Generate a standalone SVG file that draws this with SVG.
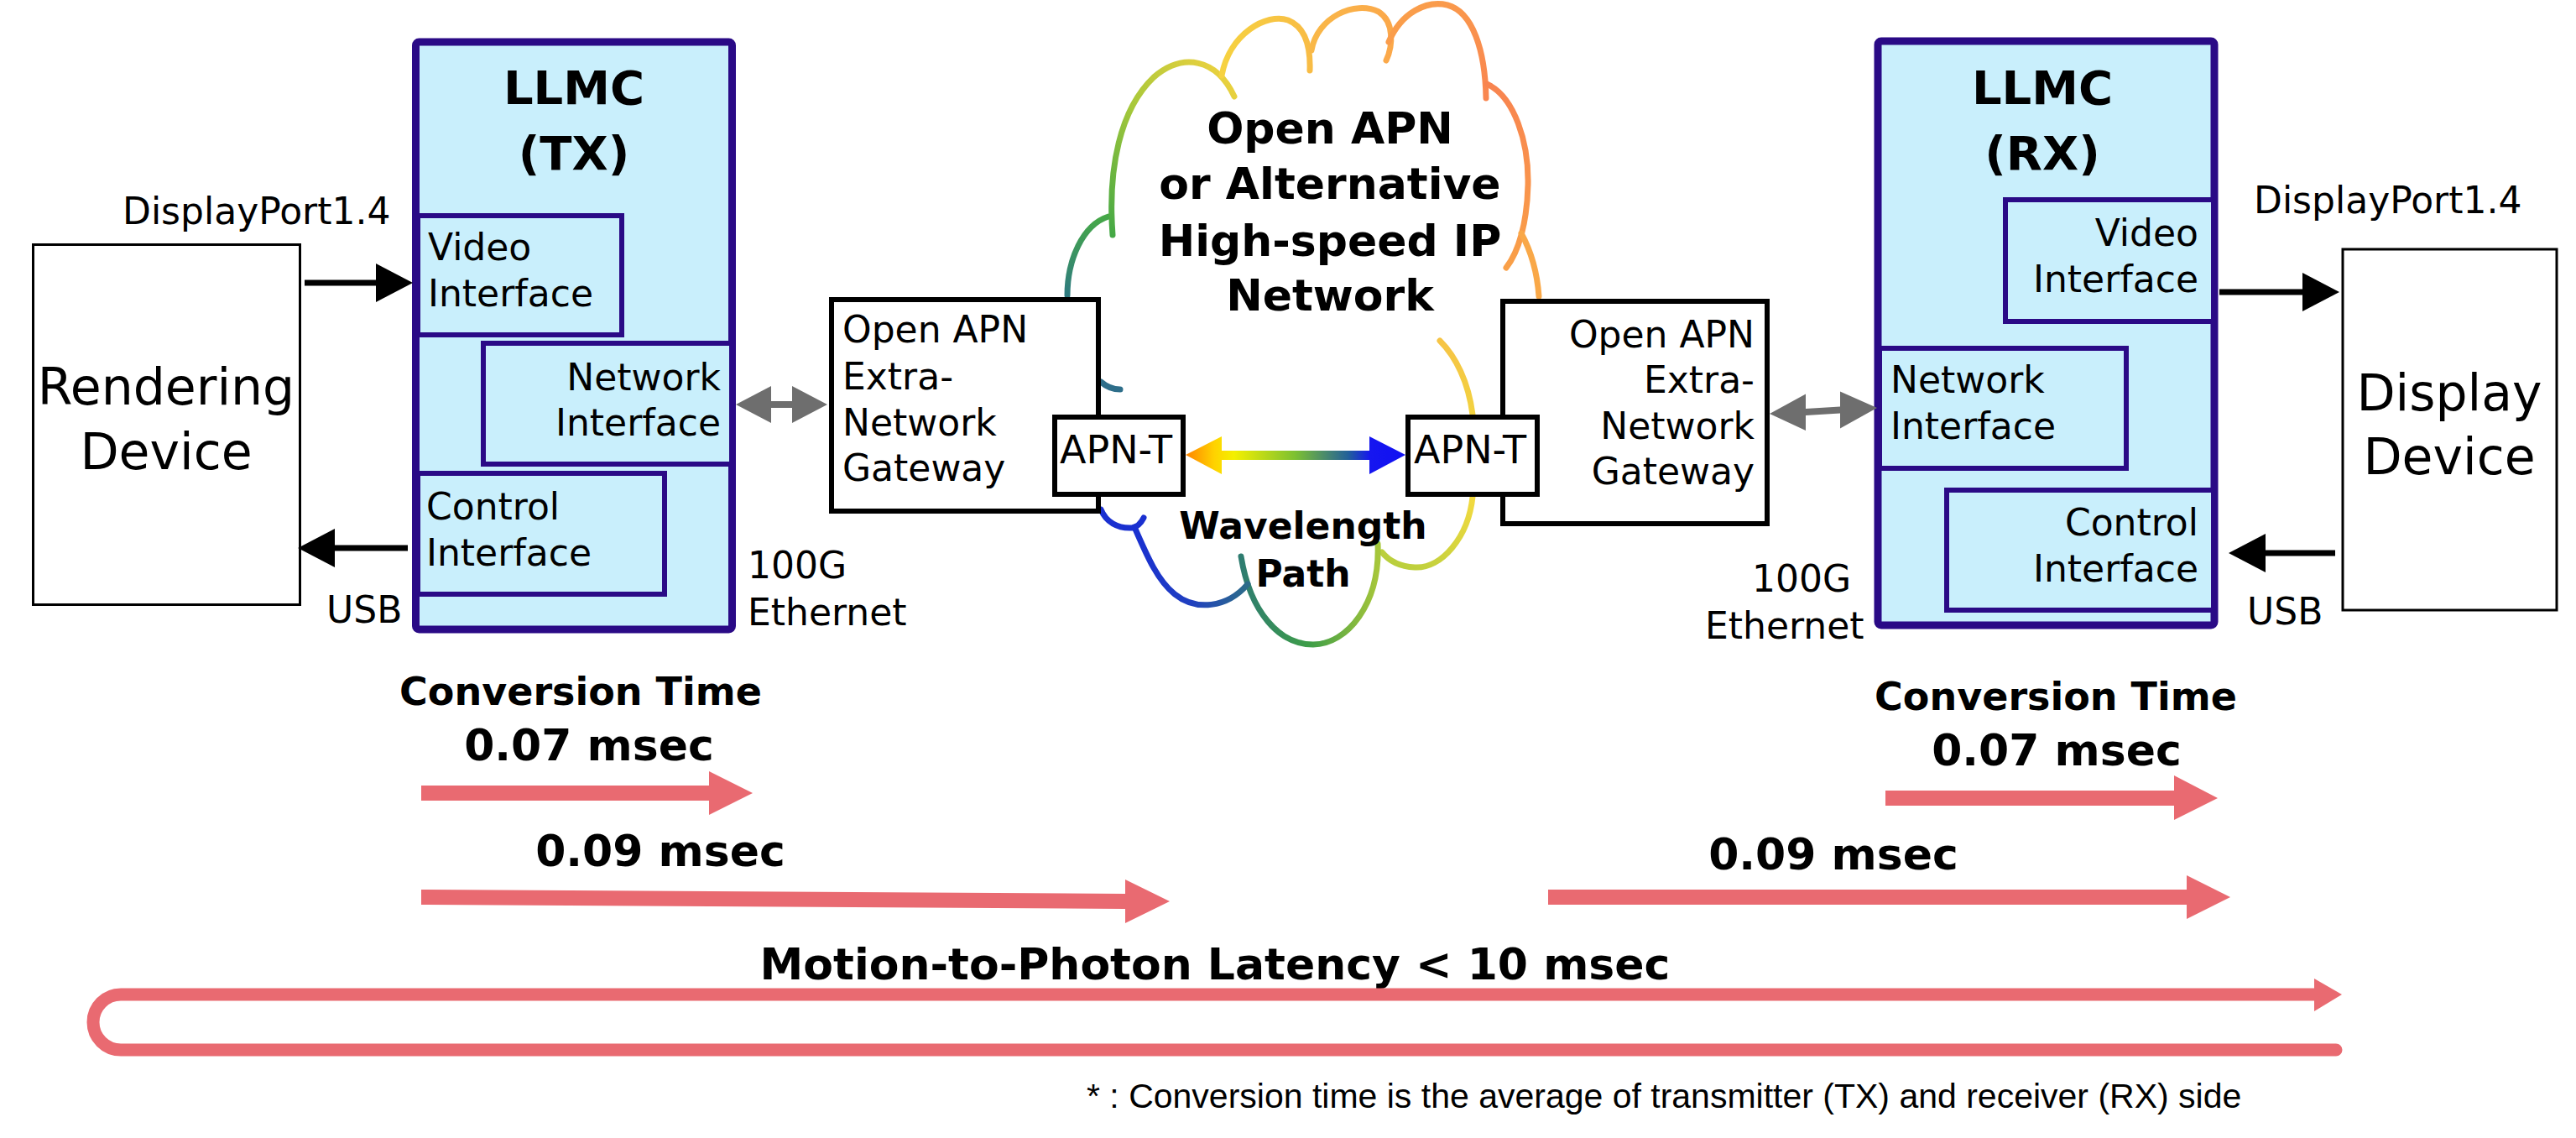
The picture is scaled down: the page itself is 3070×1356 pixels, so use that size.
<svg xmlns="http://www.w3.org/2000/svg" width="3070" height="1356" viewBox="0 0 3070 1356">
<style>
.t{font-family:"DejaVu Sans",Verdana,sans-serif;font-size:44px;fill:#000}
.b{font-weight:bold}
.mid{text-anchor:middle}
.end{text-anchor:end}
.s60{font-size:60px}
.s56{font-size:56px}
.s52{font-size:52px}
.s46{font-size:46px}
.ft{font-family:"Liberation Sans",Arial,sans-serif;font-size:41px;fill:#000}
.llmc{fill:#C9EFFC;stroke:#2A0A86;stroke-width:9}
.ifbox{fill:#C9EFFC;stroke:#2A0A86;stroke-width:6}
.dev{fill:#fff;stroke:#000;stroke-width:3}
.gw{fill:#fff;stroke:#000;stroke-width:6}
.cl{fill:none;stroke-width:7;stroke-linecap:round}
.blk{stroke:#000;stroke-width:7;fill:none}
.gray{fill:#6E6E6E}
.red{fill:#E96A71}
</style>
<defs>
<marker id="bh" markerUnits="userSpaceOnUse" markerWidth="44" markerHeight="46" viewBox="0 0 44 46" refX="1" refY="23" orient="auto">
<path d="M0,0 L44,23 L0,46 Z" fill="#000"/>
</marker>
<linearGradient id="gWave" gradientUnits="userSpaceOnUse" x1="1413" y1="0" x2="1675" y2="0">
<stop offset="0" stop-color="#FF8400"/><stop offset="0.13" stop-color="#FFD200"/><stop offset="0.22" stop-color="#F4F000"/><stop offset="0.5" stop-color="#7CC032"/><stop offset="0.74" stop-color="#22609A"/><stop offset="0.84" stop-color="#1616F0"/><stop offset="1" stop-color="#1010F2"/>
</linearGradient>
<linearGradient id="gA" x1="0" y1="1" x2="0" y2="0"><stop offset="0" stop-color="#2E7A80"/><stop offset="1" stop-color="#46A848"/></linearGradient>
<linearGradient id="gB" x1="0" y1="1" x2="1" y2="0"><stop offset="0" stop-color="#44A845"/><stop offset="0.45" stop-color="#A6C83A"/><stop offset="1" stop-color="#F4D23F"/></linearGradient>
<linearGradient id="gC" x1="0" y1="0" x2="1" y2="0"><stop offset="0" stop-color="#F6D240"/><stop offset="1" stop-color="#F8BC45"/></linearGradient>
<linearGradient id="gD" x1="0" y1="0" x2="1" y2="0"><stop offset="0" stop-color="#F9B848"/><stop offset="1" stop-color="#FBA84A"/></linearGradient>
<linearGradient id="gE" x1="0" y1="0" x2="1" y2="1"><stop offset="0" stop-color="#FAA24A"/><stop offset="1" stop-color="#F98650"/></linearGradient>
<linearGradient id="gF" x1="0" y1="0" x2="0" y2="1"><stop offset="0" stop-color="#F88450"/><stop offset="1" stop-color="#F9A048"/></linearGradient>
<linearGradient id="gH" x1="0" y1="0" x2="0" y2="1"><stop offset="0" stop-color="#F6C445"/><stop offset="1" stop-color="#F2D240"/></linearGradient>
<linearGradient id="gI" x1="1" y1="0" x2="0" y2="1"><stop offset="0" stop-color="#F3DA40"/><stop offset="1" stop-color="#B4CE3C"/></linearGradient>
<linearGradient id="gJ" x1="1" y1="0" x2="0" y2="0"><stop offset="0" stop-color="#A6C63A"/><stop offset="0.5" stop-color="#3E9E48"/><stop offset="1" stop-color="#2E7C70"/></linearGradient>
<linearGradient id="gK" x1="1" y1="0" x2="0" y2="0"><stop offset="0" stop-color="#2C6C88"/><stop offset="0.5" stop-color="#2040C0"/><stop offset="1" stop-color="#1A30D0"/></linearGradient>
</defs>
<rect width="3070" height="1356" fill="#fff"/>

<g id="cloud">
<path class="cl" stroke="url(#gA)" d="M1272,352 C1272,310 1290,268 1321,258"/>
<path class="cl" stroke="url(#gB)" d="M1326,280 C1320,200 1335,130 1375,92 C1410,62 1450,70 1471,115"/>
<path class="cl" stroke="url(#gC)" d="M1456,90 C1465,40 1510,15 1535,24 C1555,32 1562,55 1561,84"/>
<path class="cl" stroke="url(#gD)" d="M1563,60 C1570,20 1615,0 1643,14 C1662,26 1660,55 1652,72"/>
<path class="cl" stroke="url(#gE)" d="M1655,50 C1670,15 1700,0 1725,6 C1755,14 1770,60 1771,117"/>
<path class="cl" stroke="url(#gF)" d="M1772,100 C1805,115 1822,170 1821,220 C1820,265 1810,300 1795,319"/>
<path class="cl" stroke="#F9A848" d="M1813,278 C1825,300 1832,325 1834,353"/>
<path class="cl" stroke="url(#gH)" d="M1716,406 C1735,425 1750,455 1755,494"/>
<path class="cl" stroke="url(#gI)" d="M1755,592 C1750,640 1718,678 1686,676 C1668,675 1655,668 1647,658"/>
<path class="cl" stroke="url(#gJ)" d="M1642,648 C1645,720 1605,768 1565,768 C1525,768 1490,730 1479,663"/>
<path class="cl" stroke="url(#gK)" d="M1487,696 C1462,725 1425,728 1400,708 C1380,692 1368,665 1352,628"/>
<path class="cl" stroke="#1A30D0" d="M1312,607 C1318,622 1332,630 1349,629 C1355,628 1360,623 1363,617"/>
<path class="cl" stroke="#2E6E8A" d="M1312,455 C1320,462 1327,464 1335,464"/>
<text class="t b mid s52" x="1585" y="171">Open APN</text>
<text class="t b mid s52" x="1585" y="237">or Alternative</text>
<text class="t b mid s52" x="1585" y="305">High-speed IP</text>
<text class="t b mid s52" x="1585" y="370">Network</text>
<text class="t b mid" x="1553" y="642">Wavelength</text>
<text class="t b mid" x="1553" y="699">Path</text>
</g>

<g id="rendering-device">
<rect class="dev" x="39.5" y="291.5" width="318" height="429"/>
<text class="t mid s60" x="198" y="482">Rendering</text>
<text class="t mid s60" x="198" y="559">Device</text>
</g>

<g id="llmc-tx">
<rect class="llmc" x="495.5" y="50" width="377" height="700" rx="4"/>
<text class="t b mid s56" x="684" y="124">LLMC</text>
<text class="t b mid s56" x="684" y="202">(TX)</text>
<g id="tx-video-interface">
<rect class="ifbox" x="498" y="257" width="243" height="142"/>
<text class="t" x="510" y="310">Video</text>
<text class="t" x="510" y="365">Interface</text>
</g>
<g id="tx-network-interface">
<rect class="ifbox" x="576" y="409" width="296" height="144"/>
<text class="t end" x="859" y="465">Network</text>
<text class="t end" x="859" y="519">Interface</text>
</g>
<g id="tx-control-interface">
<rect class="ifbox" x="498" y="564" width="294" height="144"/>
<text class="t" x="508" y="619">Control</text>
<text class="t" x="508" y="674">Interface</text>
</g>
</g>

<g id="gateway-left">
<rect class="gw" x="991" y="357" width="318" height="252"/>
<text class="t" x="1004" y="408">Open APN</text>
<text class="t" x="1004" y="464">Extra-</text>
<text class="t" x="1004" y="519">Network</text>
<text class="t" x="1004" y="573">Gateway</text>
</g>
<g id="apn-t-left">
<rect class="gw" x="1257" y="497" width="153" height="92"/>
<text class="t s46" x="1263" y="552">APN-T</text>
</g>

<g id="gateway-right">
<rect class="gw" x="1791" y="359" width="315" height="265"/>
<text class="t end" x="2091" y="414">Open APN</text>
<text class="t end" x="2091" y="468">Extra-</text>
<text class="t end" x="2091" y="523">Network</text>
<text class="t end" x="2091" y="577">Gateway</text>
</g>
<g id="apn-t-right">
<rect class="gw" x="1678" y="497" width="154" height="92"/>
<text class="t s46" x="1685" y="552">APN-T</text>
</g>

<g id="llmc-rx">
<rect class="llmc" x="2238" y="49" width="401" height="696" rx="4"/>
<text class="t b mid s56" x="2434" y="124">LLMC</text>
<text class="t b mid s56" x="2434" y="202">(RX)</text>
<g id="rx-video-interface">
<rect class="ifbox" x="2390" y="238" width="248" height="145"/>
<text class="t end" x="2620" y="293">Video</text>
<text class="t end" x="2620" y="348">Interface</text>
</g>
<g id="rx-network-interface">
<rect class="ifbox" x="2240" y="415" width="294" height="143"/>
<text class="t" x="2253" y="468">Network</text>
<text class="t" x="2253" y="523">Interface</text>
</g>
<g id="rx-control-interface">
<rect class="ifbox" x="2320" y="584" width="318" height="143"/>
<text class="t end" x="2620" y="638">Control</text>
<text class="t end" x="2620" y="693">Interface</text>
</g>
</g>

<g id="display-device">
<rect class="dev" x="2792" y="297" width="255" height="430"/>
<text class="t mid s60" x="2919" y="489">Display</text>
<text class="t mid s60" x="2919" y="565">Device</text>
</g>

<g id="connectors">
<line class="blk" x1="363" y1="337" x2="449" y2="337" marker-end="url(#bh)"/>
<line class="blk" x1="486" y1="653" x2="398" y2="653" marker-end="url(#bh)"/>
<line class="blk" x1="2645" y1="348" x2="2745" y2="348" marker-end="url(#bh)"/>
<line class="blk" x1="2783" y1="659" x2="2699" y2="659" marker-end="url(#bh)"/>
<polygon class="gray" points="877,482 919,460 919,478 944,478 944,460 986,482 944,504 944,486 919,486 919,504"/>
<polygon class="gray" points="2109,493 2152,469.5 2152,487 2193,484.5 2193,466.5 2237,486 2193,510.5 2193,492.5 2152,495 2152,513"/>
<polygon fill="url(#gWave)" points="1413,542 1456,520 1456,537 1632,537 1632,520 1675,542 1632,565 1632,548 1456,548 1456,565"/>
</g>

<g id="labels">
<text class="t" x="146" y="267">DisplayPort1.4</text>
<text class="t" x="2686" y="254">DisplayPort1.4</text>
<text class="t" x="389" y="742">USB</text>
<text class="t" x="2678" y="744">USB</text>
<text class="t" x="891" y="689">100G</text>
<text class="t" x="891" y="745">Ethernet</text>
<text class="t" x="2088" y="705">100G</text>
<text class="t" x="2032" y="761">Ethernet</text>
</g>

<g id="latency">
<text class="t b mid s46" x="692" y="840">Conversion Time</text>
<text class="t b mid s52" x="702" y="906">0.07 msec</text>
<polygon class="red" points="502,936 845,936 845,919 897,945 845,971 845,954 502,954"/>
<text class="t b mid s52" x="787" y="1032">0.09 msec</text>
<polygon class="red" points="502,1060 1341,1065 1341,1048 1394,1074 1341,1100 1341,1083 502,1078"/>
<text class="t b mid s46" x="2450" y="846">Conversion Time</text>
<text class="t b mid s52" x="2451" y="912">0.07 msec</text>
<polygon class="red" points="2247,942 2591,942 2591,924 2643,951 2591,977 2591,960 2247,960"/>
<text class="t b mid s52" x="2185" y="1036">0.09 msec</text>
<polygon class="red" points="1845,1060 2606,1060 2606,1043 2658,1069 2606,1095 2606,1078 1845,1078"/>
<text class="t b mid s52" x="1448" y="1167">Motion-to-Photon Latency &lt; 10 msec</text>
<path d="M2784,1251 H144 A33,33 0 0 1 144,1185 H2762" fill="none" stroke="#E96A71" stroke-width="15" stroke-linecap="round"/>
<polygon class="red" points="2758,1166 2791,1185 2758,1205"/>
<text class="ft" x="1295" y="1320">* : Conversion time is the average of transmitter (TX) and receiver (RX) side</text>
</g>
</svg>
